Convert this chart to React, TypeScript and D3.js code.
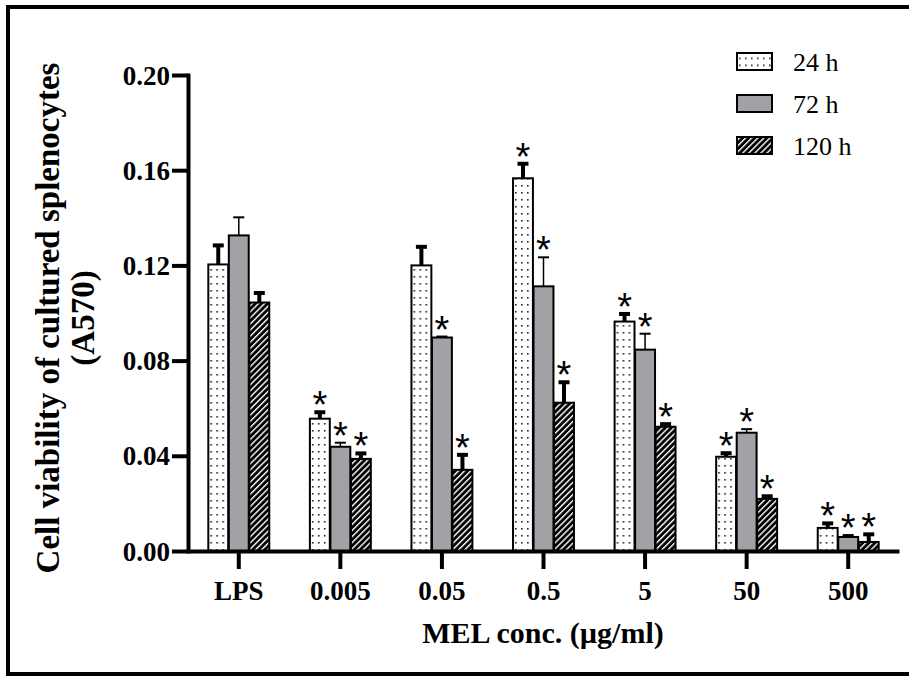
import { useEffect, useRef } from "react";
import * as d3 from "d3";

// Chart data
const categories = ["LPS", "0.005", "0.05", "0.5", "5", "50", "500"];
const seriesNames = ["24 h", "72 h", "120 h"];

const values24 = [0.1204, 0.0556, 0.12, 0.1566, 0.0964, 0.0396, 0.0097];
const values72 = [0.1326, 0.0438, 0.0897, 0.1112, 0.0846, 0.0497, 0.0059];
const values120 = [0.1044, 0.0387, 0.0341, 0.0623, 0.0522, 0.0219, 0.0038];

const errors24 = [0.008, 0.0027, 0.0078, 0.0061, 0.0032, 0.0015, 0.0019];
const errors72 = [0.0076, 0.0017, 0.0004, 0.0122, 0.0067, 0.0015, 0.0008];
const errors120 = [0.004, 0.0023, 0.0063, 0.0086, 0.0011, 0.0011, 0.0032];

// significance marks (*)
const signif24 = [false, true, false, true, true, true, true];
const signif72 = [false, true, true, true, true, true, true];
const signif120 = [false, true, true, true, true, true, true];

const yTicks = [0, 0.04, 0.08, 0.12, 0.16, 0.2];

const serif = "'Liberation Serif', 'Times New Roman', serif";

const BarChart = () => {
  const svgRef = useRef<SVGSVGElement>(null);

  useEffect(() => {
    const width = 909;
    const height = 677;

    const svg = d3.select(svgRef.current);
    svg.selectAll("*").remove();
    svg.attr("width", width).attr("height", height);

    const fills = ["url(#dots)", "#a2a2a6", "url(#stripes)"];
    const errWidths = [4, 1.5, 4];
    const capThick = [4, 2, 4];

    // patterns
    const defs = svg.append("defs");
    const dots = defs
      .append("pattern")
      .attr("id", "dots")
      .attr("patternUnits", "userSpaceOnUse")
      .attr("width", 6)
      .attr("height", 7);
    dots.append("rect").attr("width", 6).attr("height", 7).attr("fill", "#fff");
    dots
      .append("rect")
      .attr("x", 2)
      .attr("y", 3)
      .attr("width", 1.6)
      .attr("height", 1.6)
      .attr("fill", "#222");

    const stripes = defs
      .append("pattern")
      .attr("id", "stripes")
      .attr("patternUnits", "userSpaceOnUse")
      .attr("width", 4.3)
      .attr("height", 10)
      .attr("patternTransform", "rotate(45)");
    stripes.append("rect").attr("width", 4.3).attr("height", 10).attr("fill", "#000");
    stripes
      .append("rect")
      .attr("x", 0)
      .attr("width", 1.4)
      .attr("height", 10)
      .attr("fill", "#fff");

    // outer frame
    svg
      .append("rect")
      .attr("x", 8)
      .attr("y", 7)
      .attr("width", 1000)
      .attr("height", 667)
      .attr("fill", "none")
      .attr("stroke", "#000")
      .attr("stroke-width", 4);

    // scales
    const y = d3.scaleLinear().domain([0, 0.2]).range([551, 75]);
    const x0 = d3
      .scaleBand()
      .domain(categories)
      .range([188, 899])
      .paddingInner(0.4)
      .paddingOuter(0.2);
    const x1 = d3
      .scaleBand()
      .domain(seriesNames)
      .range([0, x0.bandwidth()])
      .paddingInner(0.03);

    const rows = categories.map((c, i) => ({
      cat: c,
      bars: [
        { s: seriesNames[0], k: 0, v: values24[i], e: errors24[i], sig: signif24[i] },
        { s: seriesNames[1], k: 1, v: values72[i], e: errors72[i], sig: signif72[i] },
        { s: seriesNames[2], k: 2, v: values120[i], e: errors120[i], sig: signif120[i] },
      ],
    }));

    // bars
    const groups = svg
      .selectAll("g.group")
      .data(rows)
      .enter()
      .append("g")
      .attr("class", "group")
      .attr("transform", (d) => `translate(${x0(d.cat)},0)`);

    const bar = groups
      .selectAll("g.bar")
      .data((d) => d.bars)
      .enter()
      .append("g")
      .attr("class", "bar");

    // error bars (drawn first so bar outline sits on top of the stem base)
    bar
      .append("line")
      .attr("x1", (d) => x1(d.s)! + x1.bandwidth() / 2)
      .attr("x2", (d) => x1(d.s)! + x1.bandwidth() / 2)
      .attr("y1", (d) => y(d.v))
      .attr("y2", (d) => y(d.v + d.e))
      .attr("stroke", "#000")
      .attr("stroke-width", (d) => errWidths[d.k]);
    bar
      .append("line")
      .attr("x1", (d) => x1(d.s)! + x1.bandwidth() / 2 - 5.5)
      .attr("x2", (d) => x1(d.s)! + x1.bandwidth() / 2 + 5.5)
      .attr("y1", (d) => y(d.v + d.e))
      .attr("y2", (d) => y(d.v + d.e))
      .attr("stroke", "#000")
      .attr("stroke-width", (d) => capThick[d.k]);

    bar
      .append("rect")
      .attr("x", (d) => x1(d.s)!)
      .attr("y", (d) => y(d.v))
      .attr("width", x1.bandwidth())
      .attr("height", (d) => y(0) - y(d.v))
      .attr("fill", (d) => fills[d.k])
      .attr("stroke", "#000")
      .attr("stroke-width", 2);

    // asterisks
    bar
      .filter((d) => d.sig)
      .append("text")
      .attr("x", (d) => x1(d.s)! + x1.bandwidth() / 2)
      .attr("y", (d) => y(d.v + d.e) + 6)
      .attr("text-anchor", "middle")
      .attr("font-family", "'Liberation Sans', Arial, sans-serif")
      .attr("font-size", 38)
      .attr("fill", "#000")
      .text("*");

    // X axis
    const xAxis = svg
      .append("g")
      .attr("transform", "translate(0,551)")
      .call(d3.axisBottom(x0).tickSize(18).tickSizeOuter(0));
    xAxis.select(".domain").attr("stroke-width", 4);
    xAxis.selectAll(".tick line").attr("stroke-width", 4);
    xAxis
      .selectAll(".tick text")
      .attr("y", 49)
      .attr("dy", 0)
      .attr("fill", "#000")
      .attr("font-family", serif)
      .attr("font-size", 27)
      .attr("font-weight", "bold");

    // Y axis
    const yAxis = svg
      .append("g")
      .attr("transform", "translate(188,0)")
      .call(
        d3
          .axisLeft(y)
          .tickValues(yTicks)
          .tickFormat(d3.format(".2f"))
          .tickSize(16)
          .tickSizeOuter(0)
      );
    yAxis.select(".domain").attr("stroke-width", 4).attr("stroke-linecap", "square");
    yAxis.selectAll(".tick line").attr("stroke-width", 4);
    yAxis
      .selectAll(".tick text")
      .attr("x", -18)
      .attr("dy", "0.34em")
      .attr("fill", "#000")
      .attr("font-family", serif)
      .attr("font-size", 27)
      .attr("font-weight", "bold");

    // axis titles
    svg
      .append("text")
      .attr("x", 543)
      .attr("y", 643)
      .attr("text-anchor", "middle")
      .attr("font-family", serif)
      .attr("font-size", 30)
      .attr("font-weight", "bold")
      .text("MEL conc. (µg/ml)");

    svg
      .append("text")
      .attr("transform", "translate(59,318) rotate(-90)")
      .attr("text-anchor", "middle")
      .attr("font-family", serif)
      .attr("font-size", 33)
      .attr("font-weight", "bold")
      .text("Cell viability of cultured splenocytes");
    svg
      .append("text")
      .attr("transform", "translate(94,318) rotate(-90)")
      .attr("text-anchor", "middle")
      .attr("font-family", serif)
      .attr("font-size", 33)
      .attr("font-weight", "bold")
      .text("(A570)");

    // legend
    const legend = svg
      .selectAll("g.legend")
      .data(seriesNames)
      .enter()
      .append("g")
      .attr("class", "legend")
      .attr("transform", (d, i) => `translate(737,${61.5 + i * 42})`);
    legend
      .append("rect")
      .attr("x", 0)
      .attr("y", -8.5)
      .attr("width", 35)
      .attr("height", 17)
      .attr("fill", (d, i) => fills[i])
      .attr("stroke", "#000")
      .attr("stroke-width", 2);
    legend
      .append("text")
      .attr("x", 56)
      .attr("y", 9)
      .attr("font-family", serif)
      .attr("font-size", 26)
      .attr("fill", "#000")
      .text((d) => d);
  }, []);

  return <svg ref={svgRef}></svg>;
};

const App = () => {
  return (
    <div style={{ position: "absolute", left: 0, top: 0 }}>
      <BarChart />
    </div>
  );
};

export default App;
